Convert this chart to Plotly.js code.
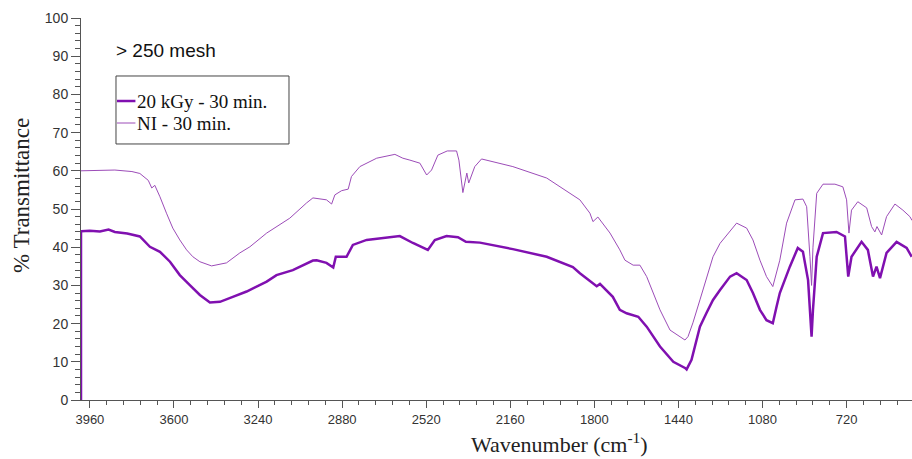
<!DOCTYPE html>
<html>
<head>
<meta charset="utf-8">
<script src="https://cdn.plot.ly/plotly-3.0.1.min.js"></script>
<style>
  html, body { margin: 0; padding: 0; background: #ffffff; }
  #chart { width: 912px; height: 459px; }
</style>
</head>
<body>
<div id="chart"></div>
<script>
// Series: 20 kGy - 30 min. (thick line)
const wn20kGy = [3998, 3998, 3960, 3917, 3880, 3853, 3800, 3746, 3703, 3660, 3617, 3575, 3532, 3489, 3446, 3403, 3348, 3289, 3203, 3161, 3091, 3005, 2989, 2947, 2918, 2907, 2861, 2847, 2834, 2775, 2663, 2633, 2577, 2513, 2483, 2433, 2384, 2350, 2290, 2149, 2004, 1892, 1862, 1806, 1790, 1776, 1721, 1691, 1662, 1612, 1576, 1519, 1462, 1412, 1405, 1384, 1348, 1319, 1292, 1262, 1219, 1191, 1148, 1121, 1091, 1063, 1036, 1020, 1006, 963, 929, 907, 885, 870, 864, 848, 821, 763, 727, 713, 699, 656, 629, 607, 592, 577, 549, 506, 463, 441];
const t20kGy  = [0, 44.2, 44.3, 44.1, 44.6, 44.0, 43.6, 42.8, 40.1, 38.8, 36.2, 32.7, 30.1, 27.5, 25.5, 25.7, 27.0, 28.4, 31.0, 32.7, 34.0, 36.5, 36.6, 35.9, 34.7, 37.5, 37.5, 39.3, 40.6, 41.9, 42.7, 42.9, 41.1, 39.3, 41.9, 42.9, 42.6, 41.4, 41.2, 39.5, 37.5, 34.8, 33.2, 30.6, 29.8, 30.4, 27.0, 23.6, 22.7, 21.8, 19.2, 14.0, 10.0, 8.4, 8.0, 10.5, 19.2, 22.9, 26.2, 28.8, 32.3, 33.2, 31.4, 28.0, 23.6, 20.9, 20.1, 24.4, 28.0, 34.9, 39.8, 38.8, 31.4, 16.6, 23.6, 37.5, 43.7, 44.0, 42.8, 32.3, 37.5, 41.4, 39.3, 32.3, 34.9, 31.9, 38.5, 41.4, 39.8, 37.5];

// Series: NI - 30 min. (thin line)
const wnNI = [3998, 3917, 3853, 3780, 3746, 3710, 3695, 3682, 3660, 3632, 3605, 3575, 3546, 3519, 3489, 3439, 3375, 3318, 3275, 3203, 3104, 3032, 3005, 2947, 2925, 2911, 2882, 2854, 2840, 2804, 2732, 2654, 2620, 2590, 2547, 2518, 2497, 2470, 2430, 2390, 2380, 2363, 2350, 2346, 2338, 2312, 2283, 2149, 2004, 1948, 1905, 1862, 1819, 1806, 1785, 1733, 1691, 1669, 1634, 1605, 1576, 1549, 1519, 1476, 1433, 1412, 1399, 1378, 1348, 1319, 1292, 1262, 1191, 1148, 1121, 1091, 1063, 1036, 1006, 977, 941, 907, 891, 877, 870, 864, 848, 821, 770, 736, 720, 710, 699, 672, 634, 613, 599, 590, 570, 549, 513, 479, 449, 440];
const tNI  = [60.0, 60.1, 60.2, 59.8, 59.3, 57.5, 55.5, 56.2, 53.2, 48.9, 45.0, 41.9, 39.3, 37.5, 36.2, 35.1, 35.9, 38.5, 40.1, 43.7, 47.6, 51.6, 52.9, 52.4, 51.3, 53.7, 54.8, 55.2, 58.5, 61.1, 63.3, 64.3, 63.3, 62.8, 62.0, 58.9, 60.2, 64.1, 65.2, 65.2, 62.8, 54.3, 57.6, 59.4, 56.8, 61.1, 63.1, 61.1, 58.1, 55.8, 54.2, 52.4, 48.9, 46.7, 47.9, 43.7, 39.3, 36.6, 35.3, 35.3, 32.3, 28.0, 23.6, 18.3, 16.6, 15.7, 16.6, 20.2, 26.2, 32.3, 37.5, 41.0, 46.3, 45.0, 41.9, 36.6, 32.3, 29.7, 36.6, 46.3, 52.4, 52.6, 50.6, 37.5, 30.0, 40.0, 54.1, 56.5, 56.5, 55.8, 52.4, 43.7, 49.7, 51.9, 50.3, 45.4, 44.0, 45.4, 43.2, 48.0, 51.3, 49.7, 48.0, 47.0];

const seriesNames = ["20 kGy - 30 min.", "NI - 30 min."];
const seriesColors = ["#8010b0", "#9c4cb8"];
const seriesWidths = [2.5, 1];
const xTickVals = [3960, 3600, 3240, 2880, 2520, 2160, 1800, 1440, 1080, 720];
const yTickVals = [0, 10, 20, 30, 40, 50, 60, 70, 80, 90, 100];

const traces = [
  { x: wn20kGy, y: t20kGy, name: seriesNames[0], type: "scatter", mode: "lines",
    line: { color: seriesColors[0], width: seriesWidths[0] } },
  { x: wnNI, y: tNI, name: seriesNames[1], type: "scatter", mode: "lines",
    line: { color: seriesColors[1], width: seriesWidths[1] } }
];

const serif = "Liberation Serif, Times New Roman, serif";
const sans = "Liberation Sans, Arial, sans-serif";

// hand-drawn legend box (paper coordinates)
const legX0 = 0.0421, legX1 = 0.2503, legY0 = 0.6702, legY1 = 0.8482;
const legRowY = [0.7827, 0.7251];
const legLineX0 = 0.0433, legLineX1 = 0.0655, legTextX = 0.0662;

const shapes = [
  { type: "rect", xref: "paper", yref: "paper", x0: legX0, x1: legX1, y0: legY0, y1: legY1,
    line: { color: "#444444", width: 1 }, fillcolor: "rgba(255,255,255,0)" }
];
const annotations = [
  { text: "> 250 mesh", xref: "paper", yref: "paper", x: 0.0395, y: 0.915,
    xanchor: "left", yanchor: "middle", showarrow: false,
    font: { family: sans, size: 19, color: "#111111" } },
  { text: "Wavenumber (cm<sup>-1</sup>)", xref: "paper", yref: "paper",
    x: 0.576, y: -0.113, xanchor: "center", yanchor: "middle", showarrow: false,
    font: { family: serif, size: 22, color: "#222222" } },
  { text: "% Transmittance", xref: "paper", yref: "paper",
    x: -0.0722, y: 0.534, xanchor: "center", yanchor: "middle", textangle: -90, showarrow: false,
    font: { family: serif, size: 23, color: "#222222" } }
];
seriesNames.forEach((nm, i) => {
  shapes.push({ type: "line", xref: "paper", yref: "paper",
    x0: legLineX0, x1: legLineX1, y0: legRowY[i], y1: legRowY[i],
    line: { color: seriesColors[i], width: seriesWidths[i] } });
  annotations.push({ text: nm, xref: "paper", yref: "paper", x: legTextX, y: legRowY[i],
    xanchor: "left", yanchor: "middle", showarrow: false, borderpad: 0,
    font: { family: serif, size: 19, color: "#111111" } });
});

const layout = {
  width: 912, height: 459,
  margin: { l: 81, r: 0, t: 18, b: 59 },
  paper_bgcolor: "#ffffff", plot_bgcolor: "#ffffff",
  font: { family: sans, size: 14, color: "#333333" },
  showlegend: false,
  xaxis: {
    range: [3998, 440], autorange: false,
    tickmode: "array", tickvals: xTickVals, ticktext: xTickVals.map(String),
    ticks: "outside", ticklen: 7, tickcolor: "#555555", tickwidth: 1,
    minor: { dtick: 72, tick0: 720, ticks: "outside", ticklen: 4, tickcolor: "#555555", showgrid: false },
    showline: true, linecolor: "#555555", linewidth: 1,
    showgrid: false, zeroline: false,
    tickfont: { family: sans, size: 13, color: "#333333" }
  },
  yaxis: {
    range: [0, 100], autorange: false,
    tickmode: "array", tickvals: yTickVals, ticktext: yTickVals.map(String),
    ticks: "outside", ticklen: 9, tickcolor: "#555555", tickwidth: 1,
    minor: { dtick: 2, tick0: 0, ticks: "outside", ticklen: 5, tickcolor: "#555555", showgrid: false },
    showline: true, linecolor: "#555555", linewidth: 1,
    showgrid: false, zeroline: false,
    tickfont: { family: sans, size: 14, color: "#333333" }
  },
  shapes: shapes,
  annotations: annotations
};

Plotly.newPlot("chart", traces, layout, { displayModeBar: false, staticPlot: true });
</script>
</body>
</html>
